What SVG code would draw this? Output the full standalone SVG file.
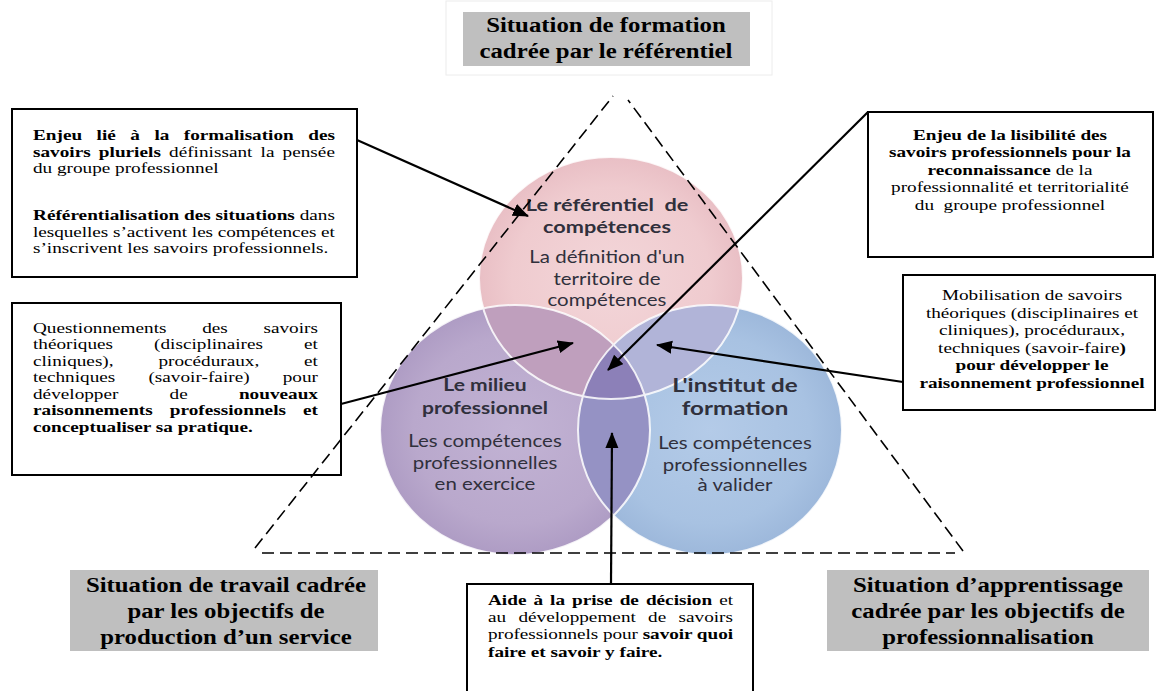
<svg xmlns="http://www.w3.org/2000/svg" width="1171" height="691" viewBox="0 0 1171 691">
<style>
.bx{fill:#fff;stroke:#000;stroke-width:2}
.lbl{fill:#bfbfbf}
.t{font-family:"Liberation Serif","Times New Roman",serif;font-size:15.5px;fill:#000}
.g{font-family:"Liberation Serif","Times New Roman",serif;font-size:20px;font-weight:bold;fill:#000;text-anchor:middle}
.b{font-weight:bold}
.c{font-family:Lato,"Open Sans",sans-serif;fill:#30303c;text-anchor:middle}
.ct{font-weight:bold}
.conn line{stroke:#000;stroke-width:2.2;marker-end:url(#ah)}
.tri{fill:none;stroke:#000;stroke-width:1.6;stroke-dasharray:12 6}
</style>
<defs>
<marker id="ah" markerUnits="userSpaceOnUse" markerWidth="17" markerHeight="14" refX="15" refY="6.5" orient="auto">
<path d="M0,0 L16,6.5 L0,13 Z" fill="#000"/>
</marker>
<radialGradient id="gPink" cx="0.5" cy="0.5" r="0.5">
<stop offset="0" stop-color="#f3d6d9"/><stop offset="0.75" stop-color="#efcbcf"/><stop offset="1" stop-color="#e9bfc5"/>
</radialGradient>
<radialGradient id="gPurple" cx="0.5" cy="0.5" r="0.5">
<stop offset="0" stop-color="#c2b3d4"/><stop offset="0.75" stop-color="#b9a8cc"/><stop offset="1" stop-color="#ae9cc4"/>
</radialGradient>
<radialGradient id="gBlue" cx="0.5" cy="0.5" r="0.5">
<stop offset="0" stop-color="#b4cbe8"/><stop offset="0.75" stop-color="#a8c2e2"/><stop offset="1" stop-color="#9db8db"/>
</radialGradient>
<clipPath id="cPink"><ellipse cx="611" cy="278" rx="132" ry="121"/></clipPath>
<clipPath id="cPurple"><ellipse cx="515" cy="430" rx="135" ry="125"/></clipPath>
<clipPath id="cBlue"><ellipse cx="710" cy="430" rx="132" ry="125"/></clipPath>
</defs>
<rect width="1171" height="691" fill="#fff"/>

<g id="venn">
<ellipse cx="611" cy="278" rx="132" ry="121" fill="url(#gPink)"/>
<ellipse cx="515" cy="430" rx="135" ry="125" fill="url(#gPurple)"/>
<ellipse cx="710" cy="430" rx="132" ry="125" fill="url(#gBlue)"/>
<ellipse cx="515" cy="430" rx="135" ry="125" fill="#bf9fbd" clip-path="url(#cPink)"/>
<ellipse cx="710" cy="430" rx="132" ry="125" fill="#b1b4d8" clip-path="url(#cPink)"/>
<g clip-path="url(#cPurple)"><ellipse cx="710" cy="430" rx="132" ry="125" fill="#9592c4"/></g>
<g clip-path="url(#cPink)"><g clip-path="url(#cPurple)"><ellipse cx="710" cy="430" rx="132" ry="125" fill="#8c80b8"/></g></g>
<g fill="none" stroke="#fff" stroke-width="2" opacity="0.85">
<ellipse cx="611" cy="278" rx="132" ry="121"/>
<ellipse cx="515" cy="430" rx="135" ry="125"/>
<ellipse cx="710" cy="430" rx="132" ry="125"/>
</g>
</g>

<g id="node-referentiel" transform="matrix(1.24 0 0 1 -145.68 0)">
<text class="c ct" x="607" y="211" font-size="17.5" xml:space="preserve">Le référentiel  de</text>
<text class="c ct" x="607" y="233" font-size="17.5">compétences</text>
<text class="c" x="607" y="263" font-size="16.5">La définition d'un</text>
<text class="c" x="607" y="285" font-size="16.5">territoire de</text>
<text class="c" x="607" y="306" font-size="16.5">compétences</text>
</g>
<g id="node-milieu" transform="matrix(1.24 0 0 1 -116.4 0)">
<text class="c ct" x="485" y="391" font-size="17">Le milieu</text>
<text class="c ct" x="485" y="414" font-size="17">professionnel</text>
<text class="c" x="485" y="447" font-size="16.5">Les compétences</text>
<text class="c" x="485" y="469" font-size="16.5">professionnelles</text>
<text class="c" x="485" y="490" font-size="16.5">en exercice</text>
</g>
<g id="node-institut" transform="matrix(1.24 0 0 1 -176.4 0)">
<text class="c ct" x="735" y="392" font-size="19.5">L'institut de</text>
<text class="c ct" x="735" y="415" font-size="19.5">formation</text>
<text class="c" x="735" y="449" font-size="16.5">Les compétences</text>
<text class="c" x="735" y="471" font-size="16.5">professionnelles</text>
<text class="c" x="735" y="491" font-size="16.5">à valider</text>
</g>

<g id="label-top">
<rect x="446" y="1" width="326" height="74" fill="#fff" stroke="#ececec" stroke-width="1"/>
<rect class="lbl" x="463" y="12" width="287" height="54"/>
<g transform="matrix(1.24 0 0 1 -145.44 0)">
<text class="g" x="606" y="32">Situation de formation</text>
<text class="g" x="606" y="58">cadrée par le référentiel</text>
</g>
</g>
<g id="label-left">
<rect class="lbl" x="70" y="570" width="308" height="81"/>
<g transform="matrix(1.24 0 0 1 -54.24 0)">
<text class="g" x="226" y="592">Situation de travail cadrée</text>
<text class="g" x="226" y="618">par les objectifs de</text>
<text class="g" x="226" y="644">production d’un service</text>
</g>
</g>
<g id="label-right">
<rect class="lbl" x="827" y="570" width="322" height="81"/>
<g transform="matrix(1.24 0 0 1 -237.12 0)">
<text class="g" x="988" y="592">Situation d’apprentissage</text>
<text class="g" x="988" y="618">cadrée par les objectifs de</text>
<text class="g" x="988" y="644">professionnalisation</text>
</g>
</g>

<g id="box-enjeu-formalisation">
<rect class="bx" x="12" y="109" width="345" height="168"/>
<g transform="matrix(1.24 0 0 1 -7.92 0)">
<text class="t b" x="33" y="140" word-spacing="7.8" textLength="243.5" lengthAdjust="spacing">Enjeu lié à la formalisation des</text>
<text class="t" x="33" y="157" word-spacing="2.7" textLength="243.5" lengthAdjust="spacing"><tspan class="b">savoirs pluriels</tspan> définissant la pensée</text>
<text class="t" x="33" y="173">du groupe professionnel</text>
<text class="t" x="33" y="220" textLength="243.5" lengthAdjust="spacing"><tspan class="b">Référentialisation des situations</tspan> dans</text>
<text class="t" x="33" y="237" textLength="243.5" lengthAdjust="spacing">lesquelles s’activent les compétences et</text>
<text class="t" x="33" y="253">s’inscrivent les savoirs professionnels.</text>
</g>
</g>

<g id="box-questionnements">
<rect class="bx" x="12" y="303" width="329" height="172"/>
<g transform="matrix(1.24 0 0 1 -7.92 0)">
<text class="t" x="33" y="333" word-spacing="24.9" textLength="229.8" lengthAdjust="spacing">Questionnements des savoirs</text>
<text class="t" x="33" y="349.5" word-spacing="29.2" textLength="229.8" lengthAdjust="spacing">théoriques (disciplinaires et</text>
<text class="t" x="33" y="366" word-spacing="32.3" textLength="229.8" lengthAdjust="spacing">cliniques), procéduraux, et</text>
<text class="t" x="33" y="382.5" word-spacing="22.8" textLength="229.8" lengthAdjust="spacing">techniques (savoir-faire) pour</text>
<text class="t" x="33" y="399" word-spacing="37.4" textLength="229.8" lengthAdjust="spacing">développer de <tspan class="b">nouveaux</tspan></text>
<text class="t b" x="33" y="415.5" word-spacing="9.8" textLength="229.8" lengthAdjust="spacing">raisonnements professionnels et</text>
<text class="t b" x="33" y="432">conceptualiser sa pratique.</text>
</g>
</g>

<g id="box-lisibilite">
<rect class="bx" x="868" y="112" width="285" height="145"/>
<g transform="matrix(1.24 0 0 1 -242.4 0)" text-anchor="middle">
<text class="t b" x="1010" y="140">Enjeu de la lisibilité des</text>
<text class="t b" x="1010" y="157.5">savoirs professionnels pour la</text>
<text class="t" x="1010" y="175"><tspan class="b">reconnaissance</tspan> de la</text>
<text class="t" x="1010" y="192.5">professionnalité et territorialité</text>
<text class="t" x="1010" y="210" xml:space="preserve">du  groupe professionnel</text>
</g>
</g>

<g id="box-mobilisation">
<rect class="bx" x="903" y="275" width="252" height="135"/>
<g transform="matrix(1.24 0 0 1 -247.68 0)" text-anchor="middle">
<text class="t" x="1032" y="300.5">Mobilisation de savoirs</text>
<text class="t" x="1032" y="318">théoriques (disciplinaires et</text>
<text class="t" x="1032" y="335.5">cliniques), procéduraux,</text>
<text class="t" x="1032" y="353">techniques (savoir-faire<tspan class="b">)</tspan></text>
<text class="t b" x="1032" y="370.5">pour développer le</text>
<text class="t b" x="1032" y="388">raisonnement professionnel</text>
</g>
</g>

<g id="box-aide">
<rect class="bx" x="467" y="584" width="286" height="120"/>
<g transform="matrix(1.24 0 0 1 -117.12 0)">
<text class="t" x="488" y="605" word-spacing="1.8" textLength="197.6" lengthAdjust="spacing"><tspan class="b">Aide à la prise de décision</tspan> et</text>
<text class="t" x="488" y="622" word-spacing="6" textLength="197.6" lengthAdjust="spacing">au développement de savoirs</text>
<text class="t" x="488" y="639.5" textLength="197.6" lengthAdjust="spacing">professionnels pour <tspan class="b">savoir quoi</tspan></text>
<text class="t b" x="488" y="657">faire et savoir y faire.</text>
</g>
</g>

<g id="triangle" class="tri">
<path d="M255,548 L613,96"/>
<path d="M963,551 L628,100"/>
<path d="M262,553 L955,553"/>
</g>

<g id="connectors" class="conn">
<line x1="357" y1="140" x2="528" y2="216"/>
<line x1="868" y1="112" x2="608" y2="370"/>
<line x1="341" y1="404" x2="573" y2="343"/>
<line x1="903" y1="382" x2="657" y2="345"/>
<line x1="611" y1="584" x2="612" y2="433"/>
</g>
</svg>
